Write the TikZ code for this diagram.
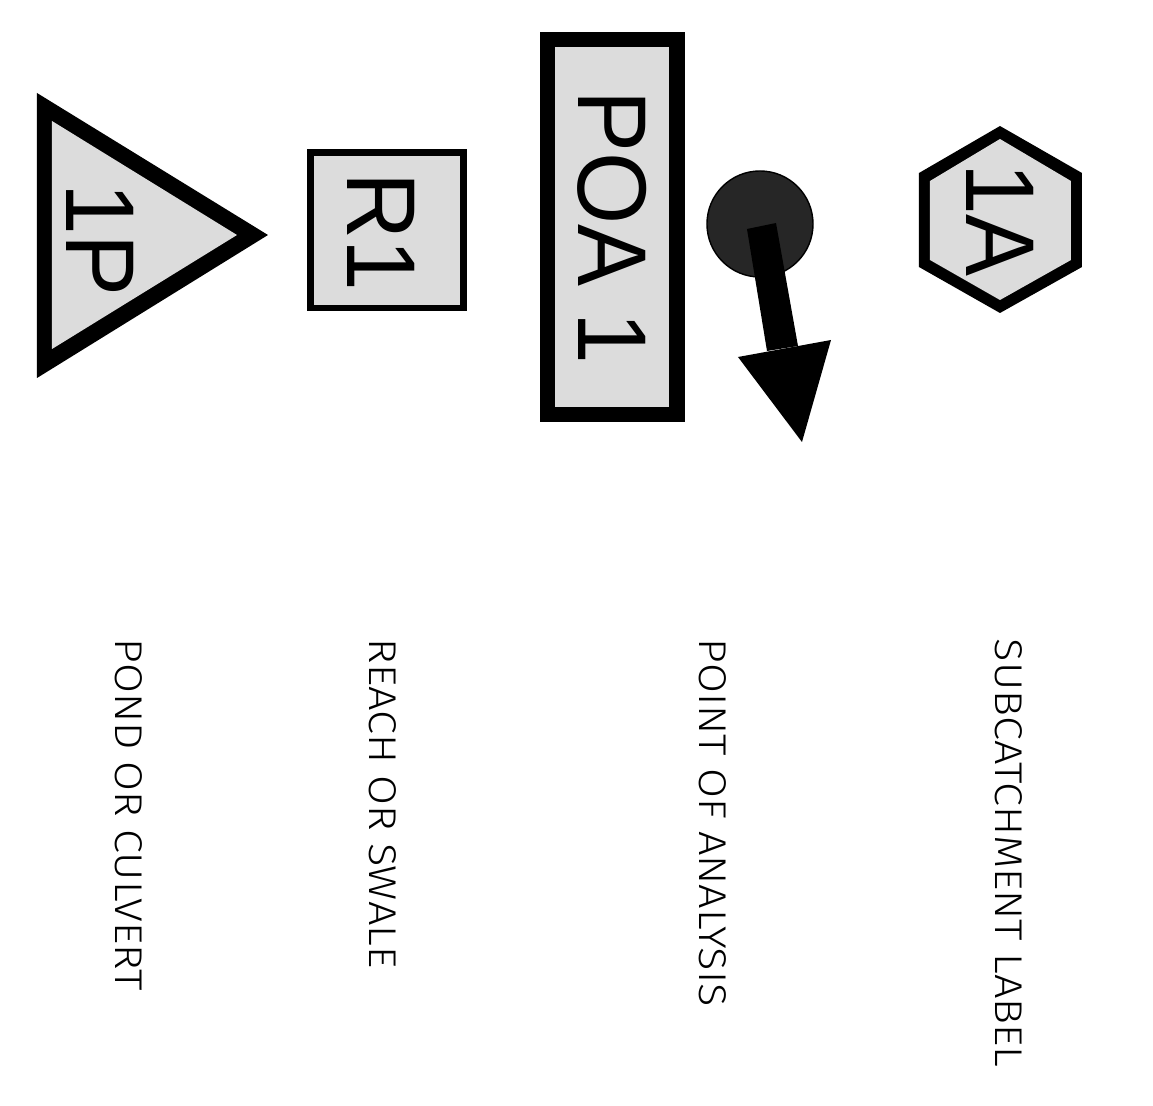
\documentclass[tikz,border=0pt]{standalone}
\usepackage{fontspec}
\setmainfont{Liberation Sans}
\newfontfamily\bigfont[FakeStretch=0.95]{Liberation Sans}
\newfontfamily\thinfont[FakeStretch=1.12]{Fira Sans Light}
\usepackage{tikz}
\usetikzlibrary{positioning}
\definecolor{facegray}{RGB}{220,220,220}
\definecolor{dotgray}{RGB}{38,38,38}

\begin{document}
\begin{tikzpicture}[x=0.01cm, y=-0.01cm,
  rim/.style={fill=black},
  face/.style={fill=facegray},
  big/.style={rotate=-90,inner sep=0pt,font=\bigfont\fontsize{27.8}{30}\selectfont},
  lbl/.style={rotate=-90,inner sep=0pt,anchor=west,font=\thinfont\fontsize{11}{13}\selectfont}]
  \fill[white] (0,0) rectangle (1153,1106);
  \useasboundingbox (0,0) rectangle (1153,1106);
  % pond
  \fill[rim] (37,93) -- (268,235) -- (37,378) -- cycle;
  \fill[face] (52,121) -- (237,235) -- (52,349) -- cycle;
  \node[big] (pond) at (100,240) {1P};
  % reach
  \fill[rim] (307,149) rectangle (467,311);
  \fill[face] (314,156) rectangle (460,305);
  \node[big] (reach) at (381,232) {R1};
  % point of analysis
  \fill[rim] (540,32) rectangle (685,422);
  \fill[face] (555,47) rectangle (669,407);
  \node[big] (poa) at (612,227) {POA 1};
  \filldraw[fill=dotgray,draw=black] (760,224) circle (0.53cm);
  \fill (747,229) -- (776,223) -- (798,346) -- (767,351) -- cycle;
  \fill (738,357) -- (831,340) -- (802,442) -- cycle;
  % subcatchment
  \fill[rim] (1000,126) -- (1082,173) -- (1082,267) -- (1000,313) -- (919,267) -- (919,173) -- cycle;
  \fill[face] (1000,139) -- (1071,181) -- (1071,260) -- (1000,300) -- (930,260) -- (930,181) -- cycle;
  \node[big] (sub) at (1000,220) {1A};
  % legend texts
  \node[lbl] (pondtxt) at (129,638) {POND OR CULVERT};
  \node[lbl] (reachtxt) at (383,638) {REACH OR SWALE};
  \node[lbl] (poatxt) at (713,638) {POINT OF ANALYSIS};
  \node[lbl] (subtxt) at (1009,638) {SUBCATCHMENT LABEL};
\end{tikzpicture}
\end{document}
